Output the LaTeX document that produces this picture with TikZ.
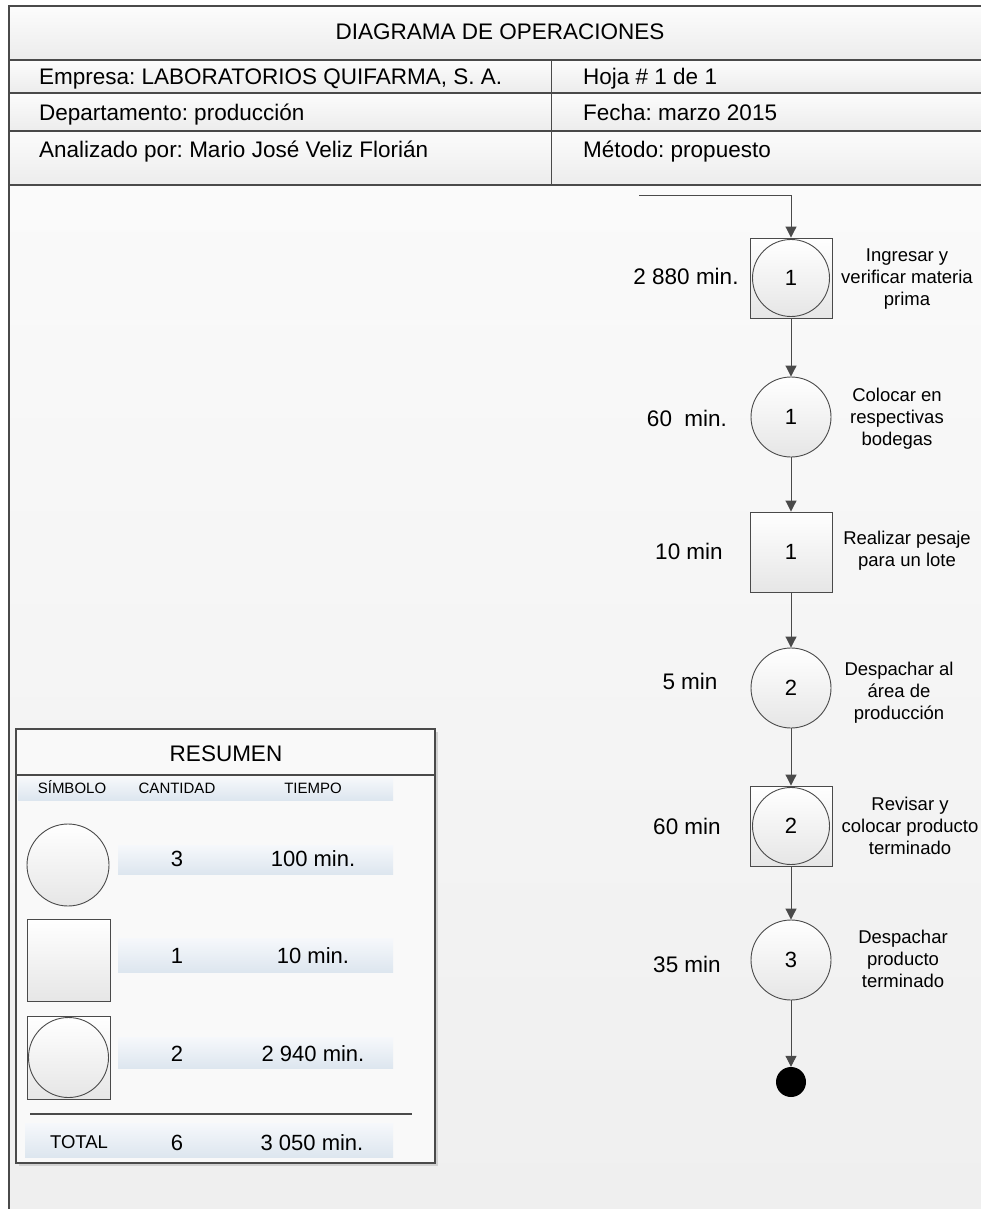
\documentclass[tikz,border=0pt]{standalone}
\usepackage{fontspec}
\setmainfont{Liberation Sans}
\usetikzlibrary{arrows.meta,calc}

\definecolor{linegray}{HTML}{4A4A4A}
\definecolor{pagetop}{HTML}{FAFAFA}
\definecolor{pagebot}{HTML}{EFEFEF}
\definecolor{hdtop}{HTML}{FCFCFC}
\definecolor{hdbot}{HTML}{ECECEC}
\definecolor{nodetop}{HTML}{FFFFFF}
\definecolor{nodebot}{HTML}{E6E6E6}
\definecolor{bandtop}{HTML}{F6F8FB}
\definecolor{bandbot}{HTML}{DDE6EF}
\definecolor{boxfill}{HTML}{F9F9F9}

\newcommand\fsz[2]{\fontsize{#1pt}{#2pt}\selectfont}
\frenchspacing

\begin{document}
\begin{tikzpicture}[x=1pt,y=-1pt,
  frame/.style={draw=linegray, line width=1.3pt},
  flow/.style={draw=linegray, line width=1pt, -{Triangle[width=11pt,length=11pt]}},
  opcircle/.style={circle, draw=linegray, line width=0.9pt, minimum size=80pt, inner sep=0pt,
    top color=nodetop, bottom color=nodebot, font=\fsz{22}{26}},
  opsquare/.style={rectangle, draw=linegray, line width=0.9pt, minimum width=82pt, minimum height=80pt,
    inner sep=0pt, top color=nodetop, bottom color=nodebot, font=\fsz{22}{26}},
  combocircle/.style={circle, draw=linegray, line width=0.9pt, minimum size=77pt, inner sep=0pt,
    top color=nodetop, bottom color=nodebot, font=\fsz{22}{26}},
  timelabel/.style={font=\fsz{22.5}{26}, inner sep=0pt, text height=16pt, text depth=0pt},
  desc/.style={font=\fsz{18.5}{22}, align=center, inner sep=0pt},
  hdtext/.style={font=\fsz{22.5}{26}, inner sep=0pt, anchor=west, text height=16pt, text depth=0pt},
  colhead/.style={font=\fsz{15}{18}, inner sep=0pt, text height=11pt, text depth=0pt},
  cell/.style={font=\fsz{22}{26}, inner sep=0pt, text height=16pt, text depth=0pt},
  band/.style={top color=bandtop, bottom color=bandbot},
  symbol/.style={draw=linegray, line width=0.9pt, top color=nodetop, bottom color=nodebot, inner sep=0pt}
]
\useasboundingbox (0,0) rectangle (981,1209);
\fill[white] (0,0) rectangle (981,1209);

% drawing area below the header
\shade[top color=pagetop, bottom color=pagebot] (9,185) rectangle (981,1209);

% header rows
\shade[top color=hdtop, bottom color=hdbot] (9,6) rectangle (981,60);
\shade[top color=hdtop, bottom color=hdbot] (9,60) rectangle (981,93);
\shade[top color=hdtop, bottom color=hdbot] (9,93) rectangle (981,131);
\shade[top color=hdtop, bottom color=hdbot] (9,131) rectangle (981,185);
\draw[frame] (981,6) -- (9,6) -- (9,1209);
\draw[frame] (9,60) -- (981,60);
\draw[frame] (9,93) -- (981,93);
\draw[frame] (9,131) -- (981,131);
\draw[frame] (9,185) -- (981,185);
\draw[frame, line width=1pt] (551,60) -- (551,185);

\node[font=\fsz{22.5}{26}, inner sep=0pt, text height=16pt, text depth=0pt] (title) at (500,32) {DIAGRAMA DE OPERACIONES};
\node[hdtext] (empresa) at (39,77) {Empresa: LABORATORIOS QUIFARMA, S. A.};
\node[hdtext] (depto) at (39,113) {Departamento: producción};
\node[hdtext] (analista) at (39,150) {Analizado por: Mario José Veliz Florián};
\node[hdtext] (hoja) at (583,77) {Hoja \# 1 de 1};
\node[hdtext] (fecha) at (583,113) {Fecha: marzo 2015};
\node[hdtext] (metodo) at (583,150) {Método: propuesto};

% process flow
\coordinate (start) at (639,195);
\node[opsquare] (n1) at (791,278) {};
\node[combocircle] (n1c) at (n1.center) {1};
\node[opcircle] (n2) at (791,417) {1};
\node[opsquare] (n3) at (791,552) {1};
\node[opcircle] (n4) at (791,688) {2};
\node[opsquare] (n5) at (791,826) {};
\node[combocircle] (n5c) at (n5.center) {2};
\node[opcircle] (n6) at (791,960) {3};
\node[circle, fill=black, minimum size=30pt, inner sep=0pt] (fin) at (791,1082) {};

\draw[flow] (start) -| (n1.north);
\draw[flow] (n1.south) -- (n2.north);
\draw[flow] (n2.south) -- (n3.north);
\draw[flow] (n3.south) -- (n4.north);
\draw[flow] (n4.south) -- (n5.north);
\draw[flow] (n5.south) -- (n6.north);
\draw[flow] (n6.south) -- (fin.north);

\node[timelabel] (t1) at (686,276) {2 880 min.};
\node[timelabel] (t2) at (687,418) {60\ \ min.};
\node[timelabel] (t3) at (689,551) {10 min};
\node[timelabel] (t4) at (690,681) {5 min};
\node[timelabel] (t5) at (687,826) {60 min};
\node[timelabel] (t6) at (687,964) {35 min};

\node[desc] (d1) at (907,279) {Ingresar y\\verificar materia\\prima};
\node[desc] (d2) at (897,419) {Colocar en\\respectivas\\bodegas};
\node[desc] (d3) at (907,551) {Realizar pesaje\\para un lote};
\node[desc] (d4) at (899,693) {Despachar al\\área de\\producción};
\node[desc] (d5) at (910,826) {Revisar y\\colocar producto\\terminado};
\node[desc] (d6) at (903,959) {Despachar\\producto\\terminado};

% summary table
\fill[black!18] (19,732) rectangle (438,1166);
\draw[draw=linegray, line width=1.2pt, fill=boxfill] (16,729) rectangle (435,1163);
\node[font=\fsz{22.5}{26}, inner sep=0pt, text height=16pt, text depth=0pt] (resumen) at (226,753) {RESUMEN};
\draw[draw=linegray, line width=1.2pt] (16,775) -- (435,775);
\shade[band] (18,777) rectangle (393,800);
\node[colhead] (hsim) at (72,788) {SÍMBOLO};
\node[colhead] (hcant) at (177,788) {CANTIDAD};
\node[colhead] (htiempo) at (313,788) {TIEMPO};

\shade[band] (118,845) rectangle (393,874);
\shade[band] (118,938) rectangle (393,972);
\shade[band] (118,1037) rectangle (393,1068);
\shade[band] (25,1123) rectangle (393,1157);

\node[symbol, circle, minimum size=82pt] (s1) at (68,865) {};
\node[symbol, rectangle, minimum width=83pt, minimum height=82pt] (s2) at (68.5,960) {};
\node[symbol, rectangle, minimum width=83pt, minimum height=83pt] (s3) at (68.5,1057.5) {};
\node[symbol, circle, minimum size=80pt] (s3c) at (s3.center) {};

\node[cell] (q1) at (177,858) {3};
\node[cell] (m1) at (313,858) {100 min.};
\node[cell] (q2) at (177,955) {1};
\node[cell] (m2) at (313,955) {10 min.};
\node[cell] (q3) at (177,1053) {2};
\node[cell] (m3) at (313,1053) {2 940 min.};

\draw[draw=linegray, line width=1.2pt] (30,1114) -- (412,1114);
\node[font=\fsz{18.5}{22}, inner sep=0pt, text height=13pt, text depth=0pt] (total) at (79,1142) {TOTAL};
\node[cell] (qt) at (177,1142) {6};
\node[cell] (mt) at (312,1142) {3 050 min.};
\end{tikzpicture}
\end{document}
